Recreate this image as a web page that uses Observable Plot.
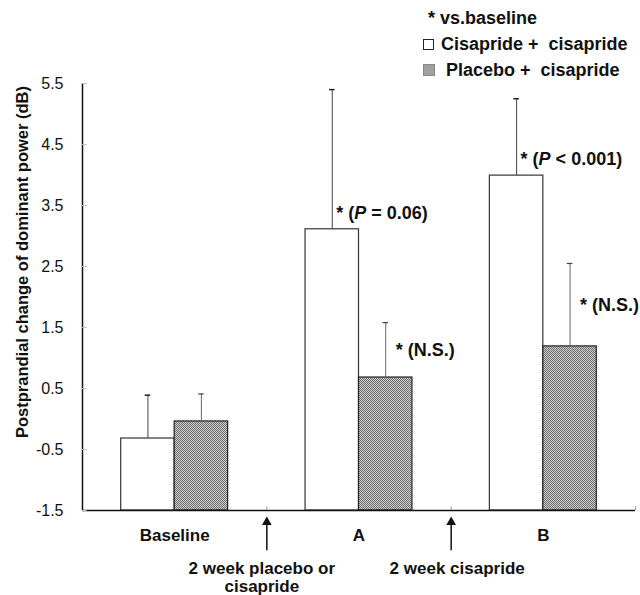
<!DOCTYPE html>
<html><head><meta charset="utf-8">
<script src="https://cdn.jsdelivr.net/npm/d3@7"></script>
<script src="https://cdn.jsdelivr.net/npm/@observablehq/plot@0.6"></script>
<style>
body{margin:0;background:#fff;font-family:"Liberation Sans",Arial,sans-serif;}
#wrap{position:relative;width:640px;height:595px;}
#legend{position:absolute;left:423px;top:5px;font-weight:bold;font-size:18px;line-height:26px;color:#111;}
#legend .row{display:flex;align-items:center;white-space:pre;}
#legend .box{display:inline-block;width:11px;height:11px;margin-right:7px;box-sizing:border-box;}
#legend .open{border:1.3px solid #222;background:#fff;}
#legend .gray{border:1px solid #888;background:#a0a0a0;margin-right:11px;width:12px;height:12px;}
</style></head><body>
<div id="wrap"><div id="legend"></div></div>
<script>
// ---- data ----
const groups = ["Baseline", "A", "B"];
const groupPos = [1, 3, 5];
const seriesNames = ["Cisapride +  cisapride", "Placebo +  cisapride"];
const cisCis = [-0.32, 3.11, 3.99];
const cisCisErr = [0.71, 2.29, 1.26];
const plaCis = [-0.04, 0.68, 1.19];
const plaCisErr = [0.45, 0.90, 1.36];
const annotCis = ["", "* (P = 0.06)", "* (P < 0.001)"];
const annotPla = ["", "* (N.S.)", "* (N.S.)"];
const arrowPos = [2, 4];
const arrowLabels = ["2 week placebo or\ncisapride", "2 week cisapride"];
const yTicks = [-1.5, -0.5, 0.5, 1.5, 2.5, 3.5, 4.5, 5.5];
const yLabel = "Postprandial change of dominant power (dB)";
const legendNote = "* vs.baseline";

// ---- build ----
const W = 0.58; // bar width in x units
const idx = d3.range(groups.length);
const yMin = yTicks[0], yMax = yTicks[yTicks.length - 1];
const lbl = {fontWeight: "bold", fill: "#111"};

const chart = Plot.plot({
  width: 640, height: 595,
  marginTop: 83, marginBottom: 85, marginLeft: 82, marginRight: 5,
  x: {domain: [0, 6], axis: null},
  y: {domain: [yMin, yMax], axis: null},
  style: {fontFamily: "Liberation Sans, Arial, sans-serif", background: "#fff", color: "#111"},
  marks: [
    // bars
    Plot.rectY(idx, {x1: i => groupPos[i] - W, x2: i => groupPos[i], y1: yMin, y2: i => cisCis[i],
      fill: "#fff", stroke: "#333", strokeWidth: 1.2}),
    Plot.rectY(idx, {x1: i => groupPos[i], x2: i => groupPos[i] + W, y1: yMin, y2: i => plaCis[i],
      fill: "url(#dither)", stroke: "#222", strokeWidth: 1.2}),
    // error bars
    Plot.ruleX(idx, {x: i => groupPos[i] - W / 2, y1: i => cisCis[i], y2: i => cisCis[i] + cisCisErr[i], stroke: "#444", strokeWidth: 1}),
    Plot.ruleY(idx, {y: i => cisCis[i] + cisCisErr[i], x1: i => groupPos[i] - W / 2 - 0.03, x2: i => groupPos[i] - W / 2 + 0.03, stroke: "#222", strokeWidth: 1.5}),
    Plot.ruleX(idx, {x: i => groupPos[i] + W / 2, y1: i => plaCis[i], y2: i => plaCis[i] + plaCisErr[i], stroke: "#666", strokeWidth: 1}),
    Plot.ruleY(idx, {y: i => plaCis[i] + plaCisErr[i], x1: i => groupPos[i] + W / 2 - 0.03, x2: i => groupPos[i] + W / 2 + 0.03, stroke: "#444", strokeWidth: 1.2}),
    // axes lines
    Plot.ruleX([0], {y1: yMin, y2: yMax, stroke: "#111", strokeWidth: 1.5}),
    Plot.ruleY([yMin], {x1: 0, x2: 6, stroke: "#111", strokeWidth: 1.5}),
    Plot.ruleY(yTicks, {x1: 0, x2: 0.05, stroke: "#bbb"}),
    Plot.ruleX([...arrowPos, 6], {y1: yMin, y2: yMin + 0.06, stroke: "#999"}),
    // y tick labels
    Plot.text(yTicks, {x: 0, y: d => d, text: d => String(d), textAnchor: "end", dx: -19, fontSize: 16, fill: "#111"}),
    // y label
    Plot.text([yLabel], {frameAnchor: "left", textAnchor: "middle", dx: -60, dy: -35, rotate: -90, fontSize: 16.5, ...lbl}),
    // annotations
    Plot.text(idx.filter(i => annotCis[i]), {x: i => groupPos[i] - W / 2, y: i => cisCis[i], text: i => annotCis[i],
      textAnchor: "start", dx: 4, dy: -16, fontSize: 18, ...lbl}),
    Plot.text(idx.filter(i => annotPla[i]), {x: i => groupPos[i] + W / 2, y: i => plaCis[i] + plaCisErr[i] / 2, text: i => annotPla[i],
      textAnchor: "start", dx: 10, fontSize: 18, ...lbl}),
    // x category labels
    Plot.text(idx, {x: i => groupPos[i], text: i => groups[i], frameAnchor: "bottom", dy: 30, fontSize: 17, ...lbl}),
    // arrows (shaft + filled head)
    Plot.ruleX(arrowPos, {x: d => d, y1: yMin - 0.66, y2: yMin - 0.2, stroke: "#111", strokeWidth: 1.5}),
    Plot.dot(arrowPos, {x: d => d, y: yMin - 0.19, symbol: "triangle", r: 3.6, fill: "#111", stroke: "none"}),
    Plot.text([0], {x: i => arrowPos[i], text: i => arrowLabels[i], frameAnchor: "bottom", dy: 50, lineAnchor: "top", lineHeight: 1.1, dx: -5, fontSize: 17, ...lbl}),
    Plot.text([1], {x: i => arrowPos[i], text: i => arrowLabels[i], frameAnchor: "bottom", dy: 50, lineAnchor: "top", lineHeight: 1.1, dx: 6, fontSize: 17, ...lbl})
  ]
});

// dither pattern for gray bars
const ns = "http://www.w3.org/2000/svg";
const defs = document.createElementNS(ns, "defs");
defs.innerHTML = '<pattern id="dither" width="2" height="2" patternUnits="userSpaceOnUse">' +
  '<rect width="2" height="2" fill="#d2d2d2"/><rect x="0" y="0" width="1" height="1" fill="#6a6a6a"/>' +
  '<rect x="1" y="1" width="1" height="1" fill="#6a6a6a"/></pattern>';
chart.insertBefore(defs, chart.firstChild);

// italic P in annotations
d3.select(chart).selectAll("text").each(function() {
  const t = this.textContent;
  const m = t.match(/^(\* \()P( .*)$/);
  if (m) {
    const sel = d3.select(this);
    sel.text(null);
    sel.append("tspan").text(m[1]);
    sel.append("tspan").attr("font-style", "italic").text("P");
    sel.append("tspan").text(m[2]);
  }
});

document.getElementById("wrap").appendChild(chart);
chart.style.position = "absolute";
chart.style.left = "0"; chart.style.top = "0";

// legend (HTML text)
const leg = document.getElementById("legend");
leg.style.zIndex = 2;
const r0 = document.createElement("div"); r0.className = "row"; r0.style.paddingLeft = "5px"; r0.textContent = legendNote; leg.appendChild(r0);
seriesNames.forEach((s, k) => {
  const r = document.createElement("div"); r.className = "row";
  const b = document.createElement("span"); b.className = "box " + (k === 0 ? "open" : "gray");
  r.appendChild(b); r.appendChild(document.createTextNode(s)); leg.appendChild(r);
});
</script>
</body></html>
